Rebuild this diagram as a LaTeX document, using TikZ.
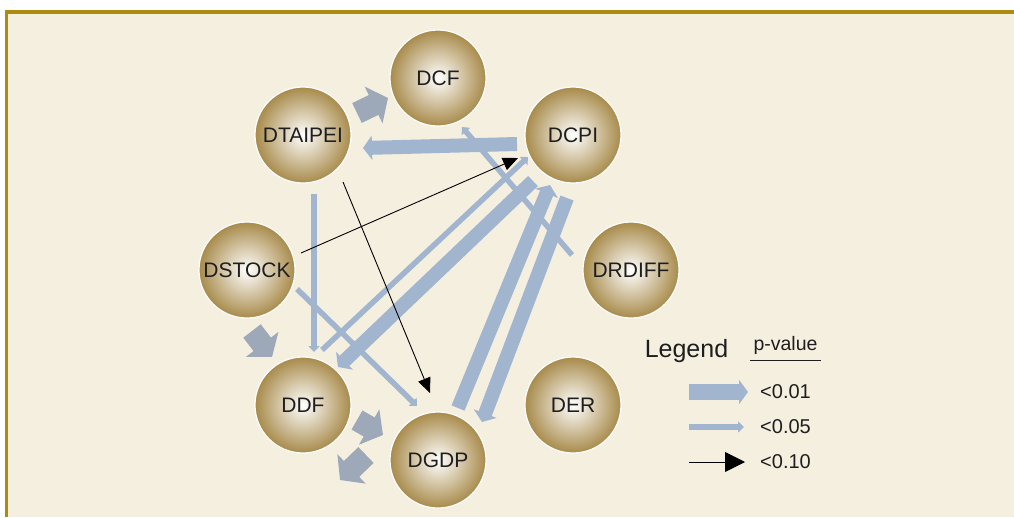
\documentclass[tikz,border=0pt]{standalone}
\usepackage{fontspec}
\setmainfont{Liberation Sans}
\usetikzlibrary{arrows.meta}
\definecolor{paper}{HTML}{F5EFE0}
\definecolor{frame}{HTML}{AB8C0C}
\definecolor{gold}{HTML}{A88B4B}
\definecolor{pblue}{HTML}{A2B5CF}
\definecolor{pgray}{HTML}{9DA8B9}
\definecolor{ink}{HTML}{1E1E1E}
\begin{document}
\begin{tikzpicture}[x=1pt,y=-1pt,
    var/.style={circle,minimum size=96pt,inner sep=0pt,outer sep=0pt,draw=white,line width=1.2pt,
      shading=radial,inner color=white,outer color=gold,text=ink,font=\fontsize{21}{21}\selectfont},
    p01/.style={pblue,line width=14pt,-{Triangle[width=24pt,length=9pt]}},
    p05/.style={pblue,line width=5.5pt,-{Triangle[width=11pt,length=6pt]}},
    p10/.style={black,line width=0.9pt,-{Triangle[width=13pt,length=15pt]}},
    blockarrow/.style={pgray,line width=22pt,-{Triangle[width=40pt,length=16pt]}},
    legtext/.style={text=ink,inner sep=0pt,font=\fontsize{20}{20}\selectfont}]
  \useasboundingbox (0,0) rectangle (1014,517);
  % Panel
  \fill[white] (0,0) rectangle (1014,517);
  \fill[paper] (8,14) rectangle (1014,517);
  \draw[frame,line width=3.8pt] (1014,12) -- (6.5,12) -- (6.5,517);
  % Variables
  \foreach \n/\x/\y/\t in {dcf/438/78/DCF, dtaipei/303/135/DTAIPEI, dcpi/573/135/DCPI,
      dstock/247/270/DSTOCK, drdiff/631/270/DRDIFF, ddf/303/405/DDF,
      dgdp/438/460/DGDP, der/573/405/DER} {
    \node[var] (\n) at (\x,\y) {\t};
  }
  % Block arrows
  \draw[blockarrow] ([shift={(54,-22)}]dtaipei.center) -- ([shift={(-50,20)}]dcf.center);
  \draw[blockarrow] ([shift={(5,61)}]dstock.center) -- ([shift={(-31,-48)}]ddf.center);
  \draw[blockarrow] ([shift={(54,15)}]ddf.center) -- ([shift={(-55,-25)}]dgdp.center);
  \draw[blockarrow] ([shift={(-72,-5)}]dgdp.center) -- ([shift={(37,75)}]ddf.center);
  % p < 0.05
  \draw[p05] ([shift={(11,59)}]dtaipei.center) -- ([shift={(11,-53)}]ddf.center);
  \draw[p05] ([shift={(19,-55)}]ddf.center) -- ([shift={(-45,22)}]dcpi.center);
  \draw[p05] ([shift={(-59,-15)}]drdiff.center) -- ([shift={(24,49)}]dcf.center);
  \draw[p05] ([shift={(50,19)}]dstock.center) -- ([shift={(-21,-54)}]dgdp.center);
  % p < 0.01
  \draw[p01] ([shift={(-56,9)}]dcpi.center) -- ([shift={(60,13)}]dtaipei.center);
  \draw[p01] ([shift={(-40,46)}]dcpi.center) -- ([shift={(35,-38)}]ddf.center);
  \draw[p01] ([shift={(20,-52)}]dgdp.center) -- ([shift={(-23,50)}]dcpi.center);
  \draw[p01] ([shift={(-6,63)}]dcpi.center) -- ([shift={(44,-38)}]dgdp.center);
  % p < 0.10
  \draw[p10] ([shift={(54,-17)}]dstock.center) -- ([shift={(-55,23)}]dcpi.center);
  \draw[p10] ([shift={(40,47)}]dtaipei.center) -- ([shift={(-8,-67)}]dgdp.center);
  % Legend
  \node[text=ink,inner sep=0pt,anchor=base,font=\fontsize{25}{25}\selectfont] (legend) at (686.5,357.5) {Legend};
  \node[text=ink,inner xsep=3pt,inner ysep=0pt,anchor=base,font=\fontsize{19.5}{19.5}\selectfont] (pval) at (785.5,350) {p-value};
  \draw[ink,line width=0.9pt] ([yshift=-6pt]pval.south west) -- ([yshift=-6pt]pval.south east);
  \node[legtext,anchor=west] (lt1) at (760,392) {<0.01};
  \node[legtext,anchor=west] (lt2) at (760,427) {<0.05};
  \node[legtext,anchor=west] (lt3) at (760,462) {<0.10};
  \coordinate (k1) at (689,392);
  \coordinate (k2) at (689,427);
  \coordinate (k3) at (689,462);
  \draw[p01,line width=16pt] (k1) -- ([xshift=-12pt]lt1.west);
  \draw[p05,line width=6.5pt] (k2) -- ([xshift=-16pt]lt2.west);
  \draw[p10,-{Triangle[width=20pt,length=20pt]}] (k3) -- ([xshift=-15pt]lt3.west);
\end{tikzpicture}
\end{document}
